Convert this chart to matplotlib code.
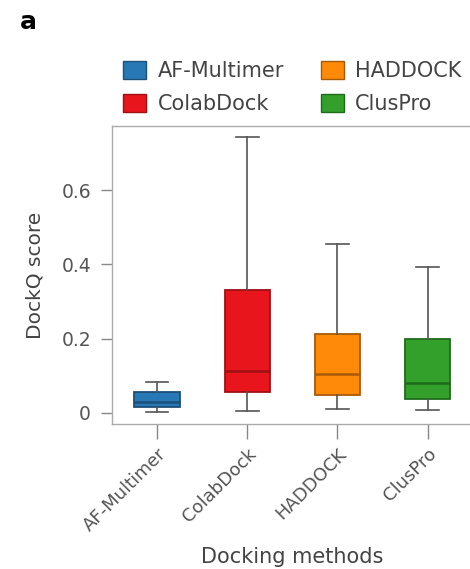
import matplotlib
matplotlib.use('Agg')
import matplotlib.pyplot as plt
from matplotlib.patches import Patch

# DockQ score summary per docking method
methods = ['AF-Multimer', 'ColabDock', 'HADDOCK', 'ClusPro']
whisker_low = [0.002, 0.004, 0.010, 0.008]
q1 = [0.015, 0.057, 0.048, 0.037]
median = [0.030, 0.114, 0.104, 0.080]
q3 = [0.055, 0.331, 0.213, 0.198]
whisker_high = [0.083, 0.744, 0.455, 0.392]

fill_colors = ['#2878b5', '#e8161c', '#ff8a0a', '#33a02c']
edge_colors = ['#1c4f7a', '#9e1014', '#a85a08', '#1f6b1c']

plt.rcParams['font.family'] = 'DejaVu Sans'

fig = plt.figure(figsize=(4.7, 5.69), dpi=100)
ax = fig.add_axes([0.238, 0.2548, 0.768, 0.5237])

stats = []
for i, name in enumerate(methods):
    stats.append({'label': name, 'whislo': whisker_low[i], 'q1': q1[i],
                  'med': median[i], 'q3': q3[i], 'whishi': whisker_high[i],
                  'fliers': []})

bp = ax.bxp(stats, positions=range(len(methods)), widths=0.5,
            patch_artist=True, showfliers=False,
            whiskerprops=dict(color='#555555', linewidth=1.2),
            capprops=dict(color='#555555', linewidth=1.2))
for i, box in enumerate(bp['boxes']):
    box.set_facecolor(fill_colors[i])
    box.set_edgecolor(edge_colors[i])
    box.set_linewidth(1.3)
for i, med in enumerate(bp['medians']):
    med.set_color(edge_colors[i])
    med.set_linewidth(1.8)

ax.set_xlim(-0.5, 3.5)
ax.set_ylim(-0.03, 0.773)
ax.set_yticks([0, 0.2, 0.4, 0.6])
ax.set_yticklabels(['0', '0.2', '0.4', '0.6'])
ax.set_xticks(range(len(methods)))
ax.set_xticklabels(methods, rotation=45, ha='right', rotation_mode='anchor')

for spine in ax.spines.values():
    spine.set_color('#aaaaaa')
    spine.set_linewidth(1.0)
ax.tick_params(axis='y', length=8, width=1.0, color='#888888',
               labelcolor='#555555', labelsize=13.5, pad=7)
ax.tick_params(axis='x', length=11, width=1.0, color='#888888',
               labelcolor='#555555', labelsize=13, pad=4)

ax.set_ylabel('DockQ score', fontsize=14.5, color='#444444', labelpad=12)
ax.set_xlabel('Docking methods', fontsize=15, color='#444444', labelpad=9)

# legend in order: AF-Multimer, ColabDock | HADDOCK, ClusPro
handles = [Patch(facecolor=fill_colors[i], edgecolor=edge_colors[i], label=methods[i])
           for i in range(len(methods))]
fig.legend(handles=handles, ncol=2, frameon=False, fontsize=15,
           handlelength=1.1, handleheight=0.95, handletextpad=0.55,
           columnspacing=1.75, labelspacing=0.6, borderaxespad=0,
           loc='upper left', bbox_to_anchor=(0.245, 0.907), labelcolor='#444444')

fig.text(0.042, 0.961, 'a', fontsize=18, fontweight='bold', ha='left', va='center')

fig.savefig('out.png', dpi=100)
